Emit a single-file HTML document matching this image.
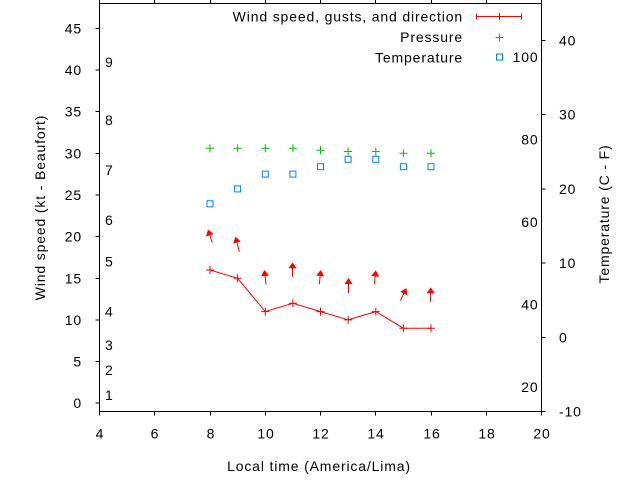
<!DOCTYPE html>
<html>
<head>
<meta charset="utf-8">
<style>
html,body{margin:0;padding:0;background:#fff;}
svg{display:block;}
text{font-family:"Liberation Sans",Arial,sans-serif;font-size:14px;letter-spacing:0.85px;fill:#000;}
</style>
</head>
<body>
<svg width="640" height="480" viewBox="0 0 640 480" xmlns="http://www.w3.org/2000/svg">
<defs>
<marker id="ah" markerUnits="userSpaceOnUse" markerWidth="16" markerHeight="16" viewBox="-8 -8 16 16" refX="0" refY="0" orient="auto" overflow="visible">
<path d="M1,0 L-5,-4 L-5,4 Z" fill="#ff0000"/>
</marker>
</defs>
<rect width="640" height="480" fill="#fff"/>

<!-- frame -->
<g stroke="#000" stroke-width="1" fill="none" shape-rendering="crispEdges">
<rect x="99.5" y="3.5" width="442" height="408"/>
<path d="M95.5 403.2H99.5M95.5 361.5H99.5M95.5 319.9H99.5M95.5 278.3H99.5M95.5 236.6H99.5M95.5 195H99.5M95.5 153.4H99.5M95.5 111.7H99.5M95.5 70.1H99.5M95.5 28.5H99.5"/>
<path d="M99.5 411.5V415.5M154.5 411.5V415.5M210.5 411.5V415.5M265.5 411.5V415.5M320.5 411.5V415.5M375.5 411.5V415.5M431.5 411.5V415.5M486.5 411.5V415.5M541.5 411.5V415.5"/>
<path d="M99.5 0V3.5M154.5 0V3.5M210.5 0V3.5M265.5 0V3.5M320.5 0V3.5M375.5 0V3.5M431.5 0V3.5M486.5 0V3.5M541.5 0V3.5"/>
<path d="M541.5 411.5H545.5M541.5 337.3H545.5M541.5 263.1H545.5M541.5 188.9H545.5M541.5 114.7H545.5M541.5 40.5H545.5"/>
</g>

<!-- left tick labels -->
<g text-anchor="end">
<text x="82" y="408.2">0</text>
<text x="82" y="366.5">5</text>
<text x="82" y="324.9">10</text>
<text x="82" y="283.3">15</text>
<text x="82" y="241.6">20</text>
<text x="82" y="200">25</text>
<text x="82" y="158.4">30</text>
<text x="82" y="116.7">35</text>
<text x="82" y="75.1">40</text>
<text x="82" y="33.5">45</text>
</g>

<!-- Beaufort labels -->
<g>
<text x="105" y="399.8">1</text>
<text x="105" y="374.9">2</text>
<text x="105" y="349.9">3</text>
<text x="105" y="316.6">4</text>
<text x="105" y="266.6">5</text>
<text x="105" y="224.9">6</text>
<text x="105" y="175">7</text>
<text x="105" y="125">8</text>
<text x="105" y="66.8">9</text>
</g>

<!-- bottom tick labels -->
<g text-anchor="middle">
<text x="100" y="438.3">4</text>
<text x="155" y="438.3">6</text>
<text x="211" y="438.3">8</text>
<text x="266" y="438.3">10</text>
<text x="321" y="438.3">12</text>
<text x="376" y="438.3">14</text>
<text x="432" y="438.3">16</text>
<text x="487" y="438.3">18</text>
<text x="542" y="438.3">20</text>
</g>

<!-- right tick labels -->
<g>
<text x="559" y="416.5">-10</text>
<text x="559" y="342.3">0</text>
<text x="559" y="268.1">10</text>
<text x="559" y="193.9">20</text>
<text x="559" y="119.7">30</text>
<text x="559" y="45.5">40</text>
</g>

<!-- Fahrenheit labels -->
<g text-anchor="end">
<text x="538.5" y="391.8">20</text>
<text x="538.5" y="309.4">40</text>
<text x="538.5" y="226.9">60</text>
<text x="538.5" y="144.5">80</text>
<text x="538.5" y="62.1">100</text>
</g>

<!-- axis labels -->
<text x="319" y="471" text-anchor="middle">Local time (America/Lima)</text>
<text transform="translate(45,207.5) rotate(-90)" text-anchor="middle">Wind speed (kt - Beaufort)</text>
<text transform="translate(609,214) rotate(-90)" text-anchor="middle">Temperature (C - F)</text>

<!-- legend -->
<g text-anchor="end">
<text x="463" y="21.5">Wind speed, gusts, and direction</text>
<text x="463" y="42">Pressure</text>
<text x="463" y="62.5">Temperature</text>
</g>
<g stroke="#ff0000" stroke-width="1" fill="none">
<path d="M476.5 16.5H521.5M476.5 13.5V19.5M521.5 13.5V19.5M499.5 13V20"/>
</g>
<path d="M495.5 37.5H503.5M499.5 33.5V41.5" stroke="#00c000" stroke-width="1" fill="none"/>
<rect x="496.5" y="54" width="6" height="6" stroke="#0080ff" stroke-width="1" fill="none"/>

<!-- wind speed line -->
<polyline points="210,270 237.6,278.3 265.3,311.6 292.9,303.3 320.5,311.6 348.1,319.9 375.8,311.6 403.4,328.2 431,328.2" stroke="#ff0000" stroke-width="1" fill="none"/>
<g stroke="#ff0000" stroke-width="1" fill="none">
<path d="M206 270H214M210 266V274"/>
<path d="M233.6 278.3H241.6M237.6 274.3V282.3"/>
<path d="M261.3 311.6H269.3M265.3 307.6V315.6"/>
<path d="M288.9 303.3H296.9M292.9 299.3V307.3"/>
<path d="M316.5 311.6H324.5M320.5 307.6V315.6"/>
<path d="M344.1 319.9H352.1M348.1 315.9V323.9"/>
<path d="M371.8 311.6H379.8M375.8 307.6V315.6"/>
<path d="M399.4 328.2H407.4M403.4 324.2V332.2"/>
<path d="M427 328.2H435M431 324.2V332.2"/>
</g>

<!-- wind direction arrows -->
<g stroke="#ff0000" stroke-width="1" fill="none" marker-end="url(#ah)">
<line x1="212.3" y1="242.7" x2="208.3" y2="230.5"/>
<line x1="239.3" y1="251.7" x2="235.7" y2="237.7"/>
<line x1="266" y1="284.3" x2="264.5" y2="271"/>
<line x1="292.5" y1="276.7" x2="292.5" y2="263.3"/>
<line x1="319.3" y1="284.3" x2="320.7" y2="271"/>
<line x1="348.5" y1="293.3" x2="348.5" y2="279"/>
<line x1="374.3" y1="284.3" x2="375.7" y2="271.3"/>
<line x1="400.3" y1="300.7" x2="406" y2="289"/>
<line x1="430.5" y1="301.7" x2="430.7" y2="288.3"/>
</g>

<!-- pressure -->
<g stroke="#00c000" stroke-width="1" fill="none">
<path d="M206 148.3H214M210 144.3V152.3"/>
<path d="M233.6 148.3H241.6M237.6 144.3V152.3"/>
<path d="M261.3 148.3H269.3M265.3 144.3V152.3"/>
<path d="M288.9 148.3H296.9M292.9 144.3V152.3"/>
<path d="M316.5 150.3H324.5M320.5 146.3V154.3"/>
<path d="M344.1 151.5H352.1M348.1 147.5V155.5"/>
<path d="M371.8 151.5H379.8M375.8 147.5V155.5"/>
<path d="M399.4 153.3H407.4M403.4 149.3V157.3"/>
<path d="M427 153.3H435M431 149.3V157.3"/>
</g>

<!-- temperature -->
<g stroke="#0080ff" stroke-width="1" fill="none">
<rect x="207" y="200.8" width="6" height="6"/>
<rect x="234.6" y="185.9" width="6" height="6"/>
<rect x="262.3" y="171.1" width="6" height="6"/>
<rect x="289.9" y="171.1" width="6" height="6"/>
<rect x="317.5" y="163.7" width="6" height="6"/>
<rect x="345.1" y="156.3" width="6" height="6"/>
<rect x="372.8" y="156.3" width="6" height="6"/>
<rect x="400.4" y="163.7" width="6" height="6"/>
<rect x="428" y="163.7" width="6" height="6"/>
</g>
</svg>
</body>
</html>
